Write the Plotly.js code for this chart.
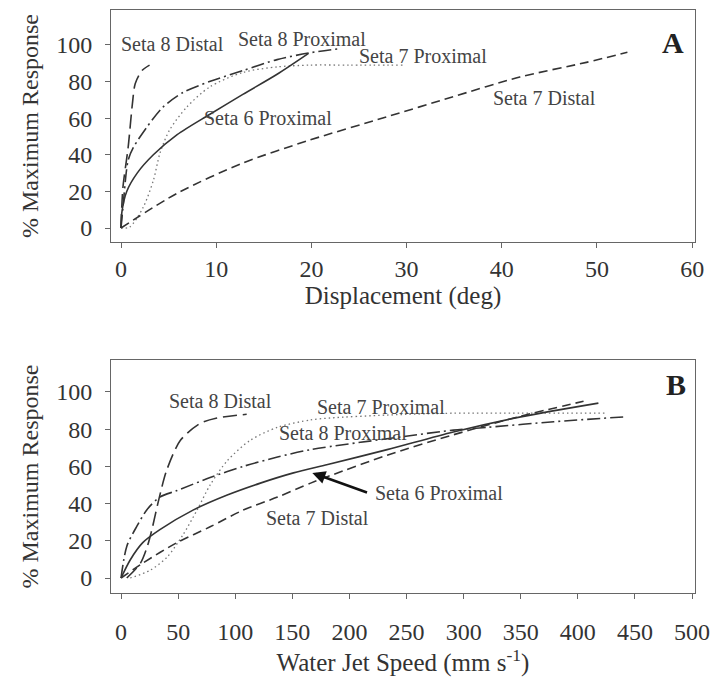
<!DOCTYPE html>
<html>
<head>
<meta charset="utf-8">
<script src="https://cdn.plot.ly/plotly-3.0.1.min.js"></script>
<style>html,body{margin:0;padding:0;background:#fff}#chart{width:716px;height:681px}</style>
</head>
<body>
<div id="chart"></div>
<script>
// ---------- Panel A: Displacement (deg) ----------
const seriesNames = ["Seta 8 Distal", "Seta 8 Proximal", "Seta 7 Proximal", "Seta 6 Proximal", "Seta 7 Distal"];

const a_s8d_x = [0, 0.2, 0.75, 1.2, 1.5, 2.2, 3.0];
const a_s8d_y = [0, 22, 44, 68, 79, 86, 89];

const a_s8p_x = [0, 0.2, 0.75, 1.3, 2.7, 4.4, 6.5, 9.3, 12.8, 16.4, 19.7, 23];
const a_s8p_y = [0, 11, 37, 44, 55, 66, 74, 80, 86, 92, 95.6, 98];

const a_s7p_x = [0, 0.9, 2.3, 3.4, 4.1, 5.1, 6.9, 9.3, 12.8, 16.4, 19.8, 24, 29.6];
const a_s7p_y = [0, 0.5, 11, 26, 41, 53.5, 66, 77, 85, 88, 89, 89, 89];

const a_s6p_x = [0, 0.1, 0.6, 1.7, 3.4, 5.9, 9.3, 12.8, 16.4, 19.7];
const a_s6p_y = [0, 9, 20, 30, 40, 51, 62, 73, 84, 95.4];

const a_s7d_x = [0, 5.9, 12.8, 19.8, 27.9, 34.8, 41.9, 48.9, 53.2];
const a_s7d_y = [0, 19, 35.5, 48, 60.7, 71.6, 82.5, 90.5, 96];

// ---------- Panel B: Water jet speed (mm/s) ----------
const b_s8d_x = [5, 17, 23, 27, 33, 40, 52, 69, 84, 110];
const b_s8d_y = [0, 8, 17, 26, 42, 58, 74, 83, 86, 88];

const b_s8p_x = [0, 5, 14, 23, 34, 49, 78, 107, 137, 166, 247, 291, 321, 379, 440];
const b_s8p_y = [0, 17, 28, 37, 43.5, 47, 54, 60, 65, 69, 76, 79.5, 81, 84, 86.6];

const b_s7p_x = [8, 25, 40, 54, 67, 78, 93, 113, 137, 166, 183, 233, 291, 350, 426];
const b_s7p_y = [0, 4, 11, 23, 37, 50, 63, 74, 81, 85, 86, 87.6, 88.6, 88.6, 88.6];

const b_s6p_x = [0, 8, 19, 34, 63, 93, 122, 151, 181, 233, 291, 350, 418];
const b_s6p_y = [0, 9.7, 19, 26, 36.5, 44.6, 51, 56.5, 61, 69, 78.5, 86.6, 94];

const b_s7d_x = [0, 19, 49, 78, 107, 137, 166, 183, 233, 291, 350, 405];
const b_s7d_y = [0, 8, 19, 27.5, 36.5, 43.5, 51, 55, 66, 77, 87, 95];

const xTicksA = [0, 10, 20, 30, 40, 50, 60];
const xTicksB = [0, 50, 100, 150, 200, 250, 300, 350, 400, 450, 500];
const yTicks = [0, 20, 40, 60, 80, 100];

const FONT = "Liberation Serif, Times New Roman, serif";
const LINE = "#333";

const styles = [
  {dash: "14px,6px", width: 1.6, color: LINE},            // Seta 8 Distal
  {dash: "13px,4px,2px,4px", width: 1.6, color: LINE},    // Seta 8 Proximal
  {dash: "1.5px,3px", width: 1.3, color: "#777"},         // Seta 7 Proximal
  {dash: "solid", width: 1.6, color: LINE},               // Seta 6 Proximal
  {dash: "9px,5px", width: 1.6, color: LINE}              // Seta 7 Distal
];

const dataA = [[a_s8d_x, a_s8d_y], [a_s8p_x, a_s8p_y], [a_s7p_x, a_s7p_y], [a_s6p_x, a_s6p_y], [a_s7d_x, a_s7d_y]];
const dataB = [[b_s8d_x, b_s8d_y], [b_s8p_x, b_s8p_y], [b_s7p_x, b_s7p_y], [b_s6p_x, b_s6p_y], [b_s7d_x, b_s7d_y]];

const traces = [];
dataA.forEach((d, i) => traces.push({
  x: d[0], y: d[1], xaxis: "x", yaxis: "y", type: "scatter", mode: "lines",
  name: seriesNames[i], showlegend: false, hoverinfo: "skip",
  line: Object.assign({shape: "spline", smoothing: 0.8}, styles[i])
}));
dataB.forEach((d, i) => traces.push({
  x: d[0], y: d[1], xaxis: "x2", yaxis: "y2", type: "scatter", mode: "lines",
  name: seriesNames[i], showlegend: false, hoverinfo: "skip",
  line: Object.assign({shape: "spline", smoothing: 0.8}, styles[i])
}));

const axisCommon = {
  showgrid: false, zeroline: false, showline: true, mirror: true,
  linecolor: "#666", linewidth: 1, ticks: "outside", ticklen: 5, tickcolor: "#666",
  tickfont: {family: FONT, size: 24, color: "#333"}
};

function ann(text, x, y, xr, yr, extra) {
  return Object.assign({
    text: text, x: x, y: y, xref: xr, yref: yr, showarrow: false,
    font: {family: FONT, size: 20, color: "#444"}
  }, extra || {});
}

const layout = {
  width: 716, height: 681,
  margin: {l: 111, r: 21, t: 10, b: 88},
  paper_bgcolor: "#fff", plot_bgcolor: "#fff",
  font: {family: FONT},
  xaxis: Object.assign({}, axisCommon, {
    domain: [0, 1], anchor: "y", range: [-1.05, 60.3], tickvals: xTicksA,
    title: {text: "Displacement (deg)", font: {family: FONT, size: 25, color: "#333"}, standoff: 0}
  }),
  yaxis: Object.assign({}, axisCommon, {
    domain: [0.602, 1], anchor: "x", range: [-7.65, 119.1], tickvals: yTicks, ticklabelstandoff: 8,
    title: {text: "% Maximum Response", font: {family: FONT, size: 24, color: "#333"}, standoff: 10}
  }),
  xaxis2: Object.assign({}, axisCommon, {
    domain: [0, 1], anchor: "y2", range: [-8.8, 502.6], tickvals: xTicksB, ticklabelstandoff: 12,
    title: {text: "Water Jet Speed (mm s<sup>-1</sup>)", font: {family: FONT, size: 25, color: "#333"}, standoff: 2}
  }),
  yaxis2: Object.assign({}, axisCommon, {
    domain: [0, 0.3997], anchor: "x2", range: [-8.06, 117.2], tickvals: yTicks, ticklabelstandoff: 8,
    title: {text: "% Maximum Response", font: {family: FONT, size: 24, color: "#333"}, standoff: 10}
  }),
  annotations: [
    ann("Seta 8 Distal", 5.46, 100.5, "x", "y"),
    ann("Seta 8 Proximal", 19.0, 103.3, "x", "y"),
    ann("Seta 7 Proximal", 31.7, 94, "x", "y"),
    ann("Seta 6 Proximal", 15.4, 60.1, "x", "y"),
    ann("Seta 7 Distal", 44.5, 71, "x", "y"),
    ann("<b>A</b>", 58.0, 101.1, "x", "y", {font: {family: FONT, size: 30, color: "#222"}}),
    ann("Seta 8 Distal", 86.8, 95.2, "x2", "y2"),
    ann("Seta 7 Proximal", 228, 91.9, "x2", "y2"),
    ann("Seta 8 Proximal", 194.7, 78, "x2", "y2"),
    ann("Seta 6 Proximal", 278, 45.7, "x2", "y2"),
    ann("Seta 7 Distal", 172, 32.3, "x2", "y2"),
    ann("<b>B</b>", 486, 103.8, "x2", "y2", {font: {family: FONT, size: 30, color: "#222"}}),
    {text: "", x: 167.5, y: 56.5, xref: "x2", yref: "y2", ax: 216.7, ay: 45.7, axref: "x2", ayref: "y2",
     showarrow: true, arrowhead: 2, arrowsize: 1, arrowwidth: 2.6, arrowcolor: "#111", standoff: 0}
  ]
};

Plotly.newPlot("chart", traces, layout, {staticPlot: true, displayModeBar: false});
</script>
</body>
</html>
